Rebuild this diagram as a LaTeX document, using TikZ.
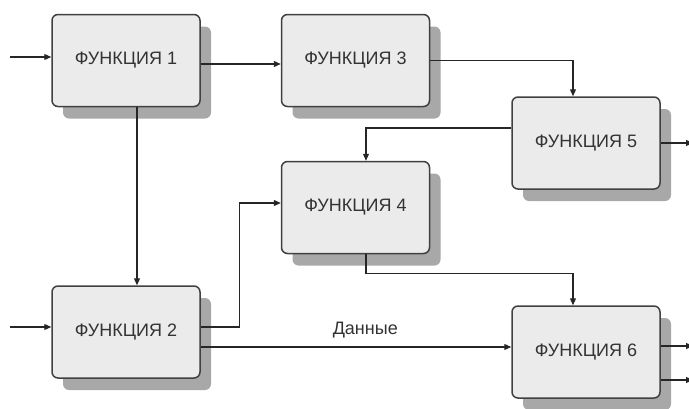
\documentclass[tikz,border=0pt]{standalone}
\usepackage{fontspec}
\setmainfont{Liberation Sans}
\usetikzlibrary{shadows,calc,arrows.meta}
\definecolor{boxfill}{HTML}{EBEBEB}
\definecolor{boxline}{HTML}{404040}
\definecolor{shade}{HTML}{A8A8A8}
\definecolor{txt}{HTML}{333333}
\tikzset{
  fbox/.style={draw=boxline, line width=1.5pt, fill=boxfill, rounded corners=6pt,
    minimum width=148pt, minimum height=92pt, inner sep=0pt,
    text=txt, font=\fontsize{18}{21}\selectfont,
    drop shadow={shadow xshift=11pt, shadow yshift=-12pt, fill=shade, opacity=1}},
  arr/.style={draw=black!85, line width=1.2pt, -{Triangle[length=7pt,width=6pt]}},
  lbl/.style={text=txt, font=\fontsize{18}{21}\selectfont}
}
\begin{document}
\begin{tikzpicture}[x=1pt,y=-1pt]
\useasboundingbox (0,0) rectangle (689,408);
\node[fbox] (F1) at (126,60.5) {ФУНКЦИЯ 1};
\node[fbox] (F3) at (355.5,60.5) {ФУНКЦИЯ 3};
\node[fbox] (F5) at (586,143) {ФУНКЦИЯ 5};
\node[fbox] (F4) at (355.5,207.5) {ФУНКЦИЯ 4};
\node[fbox] (F2) at (126,332) {ФУНКЦИЯ 2};
\node[fbox] (F6) at (586,352) {ФУНКЦИЯ 6};
\coordinate (in1) at (10,57);
\coordinate (in2) at (10,327);
\coordinate (out5) at (693,143);
\coordinate (out6a) at (693,346);
\coordinate (out6b) at (693,380);
\draw[arr] (in1) -- (in1 -| F1.west);
\draw[arr] (in2) -- (in2 -| F2.west);
\draw[arr] ($(F1.east)+(0,3.5)$) -- ($(F3.west)+(0,3.5)$);
\draw[arr] ($(F1.south)+(11,0)$) -- ($(F2.north)+(11,0)$);
\draw[arr] (F3.east) -| ($(F5.north)+(-13,0)$);
\draw[arr] ($(F5.west)+(0,-15)$) -| ($(F4.north)+(10.5,0)$);
\draw[arr] (F5.east) -- (out5);
\draw[arr] ($(F4.south)+(10.5,0)$) -- ++(0,19) -| ($(F6.north)+(-13,0)$);
\draw[arr] ($(F2.east)+(0,-5)$) -- ++(39,0) |- ($(F4.west)+(0,-4.5)$);
\coordinate (d2) at ($(F2.east)+(0,15)$);
\draw[arr] (d2) -- (d2 -| F6.west) node[lbl, pos=0.53, above=5pt] (lab) {Данные};
\draw[arr] ($(F6.east)+(0,-6)$) -- (out6a);
\draw[arr] ($(F6.east)+(0,28)$) -- (out6b);
\end{tikzpicture}
\end{document}
